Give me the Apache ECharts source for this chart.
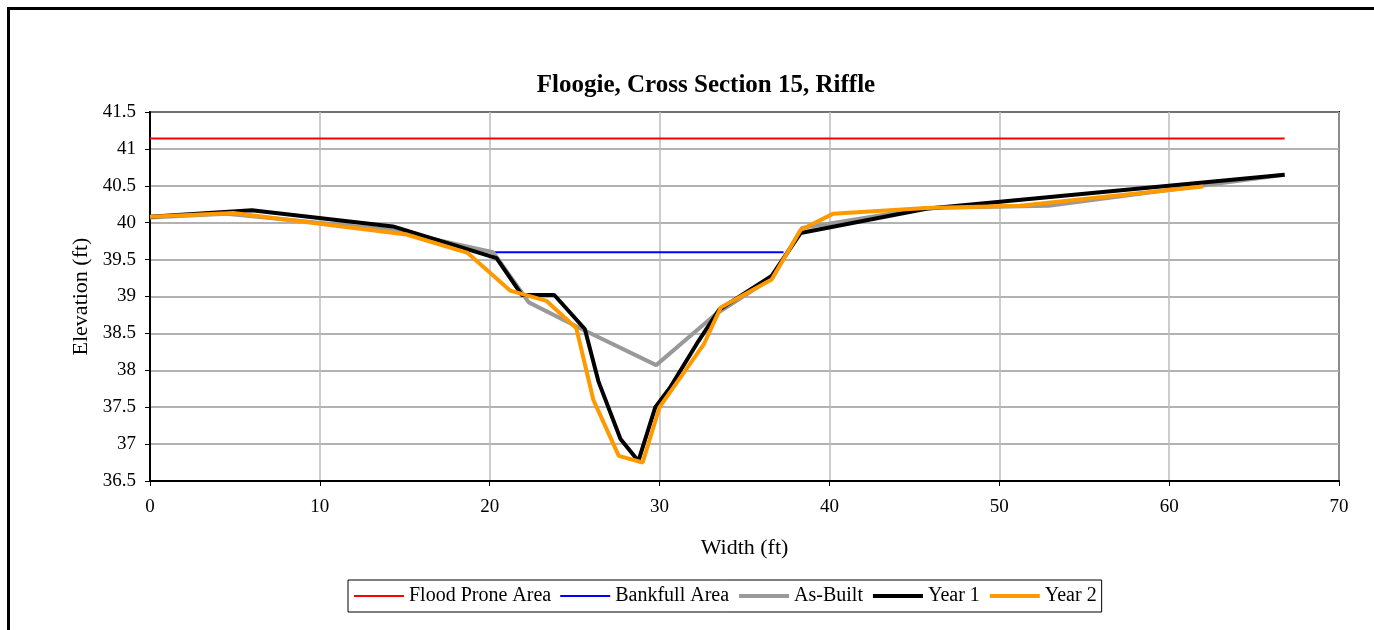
<!DOCTYPE html>
<html>
<head>
<meta charset="utf-8">
<script src="https://cdn.jsdelivr.net/npm/echarts@6/dist/echarts.min.js"></script>
<style>
html,body{margin:0;padding:0;background:#fff;}
#chart{width:1374px;height:630px;}
</style>
</head>
<body>
<div id="chart"></div>
<script>
const titleText = 'Floogie, Cross Section 15, Riffle';
const xName = 'Width (ft)';
const yName = 'Elevation (ft)';
const seriesNames = ['Flood Prone Area', 'Bankfull Area', 'As-Built', 'Year 1', 'Year 2'];

const floodProne = [[0, 41.14], [66.8, 41.14]];
const bankfull = [[20.2, 39.6], [37.3, 39.6]];
const asBuilt = [[0, 40.07], [4.5, 40.12], [14.3, 39.9], [20.2, 39.6], [22.3, 38.92], [25.5, 38.55],
  [29.8, 38.07], [33.3, 38.76], [36.6, 39.25], [38.4, 39.93], [45.7, 40.2], [52.9, 40.23], [66.8, 40.65]];
const year1 = [[0, 40.08], [6.0, 40.17], [14.3, 39.95], [20.4, 39.52], [21.9, 39.02], [23.8, 39.02],
  [25.6, 38.56], [26.4, 37.85], [27.7, 37.07], [28.75, 36.77], [29.75, 37.5], [30.6, 37.76],
  [32.3, 38.4], [33.5, 38.82], [36.6, 39.28], [38.3, 39.86], [45.7, 40.19], [66.8, 40.65]];
const year2 = [[0, 40.08], [4.9, 40.13], [15.1, 39.84], [18.7, 39.59], [21.2, 39.08], [23.35, 38.94],
  [25.1, 38.57], [26.1, 37.6], [27.6, 36.84], [29.0, 36.75], [30.0, 37.5], [32.6, 38.35],
  [33.6, 38.85], [36.6, 39.23], [38.3, 39.9], [40.2, 40.12], [45.7, 40.2], [51.2, 40.23], [62.0, 40.49]];

const colors = ['#ff0000', '#0000ff', '#999999', '#000000', '#ff9900'];
const widths = [2, 2, 4, 4, 4];
const datasets = [floodProne, bankfull, asBuilt, year1, year2];

const font = '"Liberation Serif", "Times New Roman", serif';
const chart = echarts.init(document.getElementById('chart'));
chart.setOption({
  animation: false,
  backgroundColor: '#fff',
  graphic: [{
    type: 'rect', silent: true,
    shape: { x: 8.5, y: 8.5, width: 1400, height: 700 },
    style: { fill: 'none', stroke: '#000', lineWidth: 3 }
  }],
  title: {
    text: titleText, left: 701, top: 68, textAlign: 'center',
    textStyle: { fontFamily: font, fontSize: 25, fontWeight: 'bold', color: '#000' }
  },
  legend: {
    left: 348, top: 580,
    data: seriesNames,
    itemWidth: 50, itemHeight: 12, itemGap: 8,
    padding: [6, 5, 6, 5],
    borderColor: '#000', borderWidth: 1,
    itemStyle: { opacity: 0 },
    lineStyle: { width: 'inherit' },
    textStyle: { fontFamily: font, fontSize: 20, color: '#000' }
  },
  grid: {
    left: 150, right: 35, top: 112, bottom: 149,
    show: true, borderColor: '#000', borderWidth: 2, backgroundColor: '#fff'
  },
  xAxis: {
    type: 'value', min: 0, max: 70, interval: 10,
    name: xName, nameLocation: 'middle', nameGap: 56,
    nameTextStyle: { fontFamily: font, fontSize: 22, color: '#000' },
    axisLine: { onZero: false, lineStyle: { color: '#000', width: 2 } },
    axisTick: { show: true, inside: false, length: 5, lineStyle: { color: '#000' } },
    axisLabel: { fontFamily: font, fontSize: 19, color: '#000', margin: 17 },
    splitLine: { show: true, lineStyle: { color: '#bbbbbb', width: 1.5 } }
  },
  yAxis: {
    type: 'value', min: 36.5, max: 41.5, interval: 0.5,
    name: yName, nameLocation: 'middle', nameGap: 58,
    nameTextStyle: { fontFamily: font, fontSize: 22, color: '#000' },
    axisLine: { onZero: false, lineStyle: { color: '#000', width: 2 } },
    axisTick: { show: true, inside: false, length: 5, lineStyle: { color: '#000' } },
    axisLabel: { fontFamily: font, fontSize: 19, color: '#000', margin: 14 },
    splitLine: { show: true, lineStyle: { color: '#999999', width: 1.5 } }
  },
  series: seriesNames.map((n, i) => ({
    name: n, type: 'line', data: datasets[i],
    symbol: 'none', showSymbol: false,
    color: colors[i],
    lineStyle: { color: colors[i], width: widths[i] },
    z: 2 + i
  }))
});
</script>
</body>
</html>
